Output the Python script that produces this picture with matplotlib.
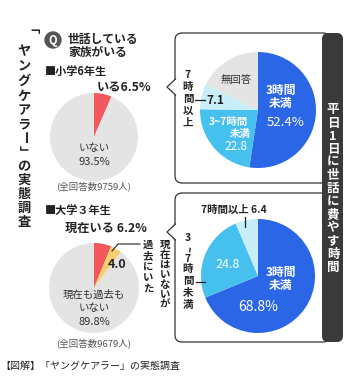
import matplotlib
matplotlib.use("Agg")
import matplotlib.pyplot as plt
from matplotlib.patches import FancyBboxPatch, Circle, Polygon

plt.rcParams['font.family'] = ['Noto Sans CJK JP', 'DejaVu Sans']

# data (percent)
elem_vals = [6.5, 93.5]            # いる, いない
elem_time = [52.4, 22.8, 7.1, 17.7]  # 3時間未満, 3~7時間未満, 7時間以上, 無回答
univ_vals = [6.2, 4.0, 89.8]       # 現在いる, 過去にいた, いない
univ_time = [68.8, 24.8, 6.4]      # 3時間未満, 3~7時間未満, 7時間以上
elem_total = 9759
univ_total = 9679

RED = '#f2575b'
YEL = '#f7cf6e'
GRAY = '#e4e4e4'
BLUE = '#2a66e6'
CYAN = '#46c0ee'
LIGHT = '#c8eefa'
INK = '#222222'

fig = plt.figure(figsize=(3.5, 3.77), dpi=100)
ax = fig.add_axes([0, 0, 1, 1])

ROT = {'ー': -90, '「': -90, '」': -90, '~': -90}


def vtext(x, ys, s, **kw):
    for ch, y in zip(s, ys):
        ax.text(x, y, ch, ha='center', va='center', rotation=ROT.get(ch, 0), **kw)


def vtext_step(x, y0, step, s, **kw):
    vtext(x, [y0 + i * step for i in range(len(s))], s, **kw)


def pie(vals, colors, cx, cy, r):
    # y axis is inverted, so startangle=-90 / counterclock=True = clockwise from top on screen
    ax.pie(vals, colors=colors, center=(cx, cy), radius=r, startangle=-90,
           counterclock=True, frame=True, wedgeprops=dict(linewidth=0))


# title column
title = '「ヤングケアラー」の実態調査'
vtext(24, [35, 51, 66, 81, 96, 110, 124, 138, 152, 166, 180, 194, 208, 222], title,
      fontsize=9.5, fontweight='bold', color=INK)

# question
ax.add_patch(Circle((53, 40), 8, color='#555555', zorder=3))
ax.text(53, 40.5, 'Q', ha='center', va='center', color='white', fontsize=8,
        fontweight='bold', zorder=4)
ax.text(68, 39, '世話している', ha='left', va='center', fontsize=8.5, fontweight='bold', color=INK)
ax.text(68, 52, '家族がいる', ha='left', va='center', fontsize=8.5, fontweight='bold', color=INK)

# elementary
ax.text(45, 71, '■小学6年生', ha='left', va='center', fontsize=8, fontweight='bold', color=INK)
ax.text(151, 87, 'いる6.5%', ha='right', va='center', fontsize=8.8, fontweight='bold', color=INK)
pie(elem_vals, [RED, GRAY], 94, 137, 44)
ax.text(94, 148, 'いない', ha='center', va='center', fontsize=7.5, color='#333333')
ax.text(94, 162, '93.5%', ha='center', va='center', fontsize=8, color='#333333')
ax.text(94, 186, f'(全回答数{elem_total}人)', ha='center', va='center', fontsize=6.8, color='#555555')

# university
ax.text(45, 210, '■大学３年生', ha='left', va='center', fontsize=8, fontweight='bold', color=INK)
ax.text(147, 228, '現在いる 6.2%', ha='right', va='center', fontsize=8.8, fontweight='bold', color=INK)
pie(univ_vals, [RED, YEL, GRAY], 94, 288, 45)
ax.text(117, 265, '4.0', ha='center', va='center', fontsize=9, fontweight='bold', color=INK)
ax.plot([112, 118, 140], [251, 244, 244], color=INK, lw=0.8)
vtext_step(165, 245, 10, '現在はいないが', fontsize=7.5, fontweight='bold', color=INK)
vtext_step(148, 245, 11, '過去にいた', fontsize=7.5, fontweight='bold', color=INK)
ax.text(94, 295, '現在も過去も', ha='center', va='center', fontsize=7.5, color='#333333')
ax.text(94, 308, 'いない', ha='center', va='center', fontsize=7.5, color='#333333')
ax.text(94, 322, '89.8%', ha='center', va='center', fontsize=8, color='#333333')
ax.text(94, 343, f'(全回答数{univ_total}人)', ha='center', va='center', fontsize=6.8, color='#555555')

# boxes on the right
for y0, y1, py in [(33, 183, 87), (193, 342, 232)]:
    ax.add_patch(FancyBboxPatch((175, y0), 155, y1 - y0, boxstyle='round,pad=0,rounding_size=7',
                                facecolor='white', edgecolor='#333333', lw=0.9, zorder=1))
    ax.add_patch(Polygon([(176, py - 8), (167, py), (176, py + 8)], closed=True,
                         facecolor='white', edgecolor='none', zorder=2))
    ax.plot([175.5, 167, 175.5], [py - 8, py, py + 8], color='#333333', lw=0.9, zorder=2)

ax.add_patch(FancyBboxPatch((322, 33), 21, 309, boxstyle='round,pad=0,rounding_size=6',
                            facecolor='#3a3a3a', edgecolor='none', zorder=2))
vtext_step(333, 110, 13.1, '平日1日に世話に費やす時間', fontsize=9, fontweight='bold',
           color='white', zorder=3)

# elementary: time spent
pie(elem_time, [BLUE, CYAN, LIGHT, GRAY], 258, 110, 58)
ax.text(281, 90, '3時間', ha='center', va='center', fontsize=8.5, fontweight='bold', color='white')
ax.text(281, 103, '未満', ha='center', va='center', fontsize=8.5, fontweight='bold', color='white')
ax.text(286, 123, '52.4%', ha='center', va='center', fontsize=9.5, color='white')
ax.text(236, 80, '無回答', ha='center', va='center', fontsize=7.5, color='#333333')
ax.text(228, 122, '3~7時間', ha='center', va='center', fontsize=7.5, fontweight='bold', color='white')
ax.text(240, 134, '未満', ha='center', va='center', fontsize=7.5, fontweight='bold', color='white')
ax.text(236, 147, '22.8', ha='center', va='center', fontsize=8.5, color='white')
vtext(188, [75, 87, 99, 111, 123], '7時間以上', fontsize=7.5, fontweight='bold', color=INK)
ax.plot([195, 205], [100, 100], color=INK, lw=0.9)
ax.text(206, 100, '7.1', ha='left', va='center', fontsize=8.5, fontweight='bold', color=INK)

# university: time spent
pie(univ_time, [BLUE, CYAN, LIGHT], 258, 276, 57)
ax.text(234, 210, '7時間以上 6.4', ha='center', va='center', fontsize=7.5, fontweight='bold', color=INK)
ax.plot([245, 245], [217, 227], color=INK, lw=0.9)
vtext(188, [238, 249, 259, 269, 281, 293, 305], '3~7時間未満', fontsize=7.5,
      fontweight='bold', color=INK)
ax.plot([196, 205], [282, 282], color=INK, lw=0.9)
ax.text(228, 265, '24.8', ha='center', va='center', fontsize=9, color='white')
ax.text(281, 272, '3時間', ha='center', va='center', fontsize=8.5, fontweight='bold', color='white')
ax.text(281, 285, '未満', ha='center', va='center', fontsize=8.5, fontweight='bold', color='white')
ax.text(258, 307, '68.8%', ha='center', va='center', fontsize=10, color='white')

# caption
ax.text(0, 366, '【図解】「ヤングケアラー」の実態調査', ha='left', va='center', fontsize=7.2, color=INK)

ax.set_xlim(0, 350)
ax.set_ylim(377, 0)
ax.set_aspect('equal')
ax.axis('off')
fig.savefig('out.png', dpi=100)
